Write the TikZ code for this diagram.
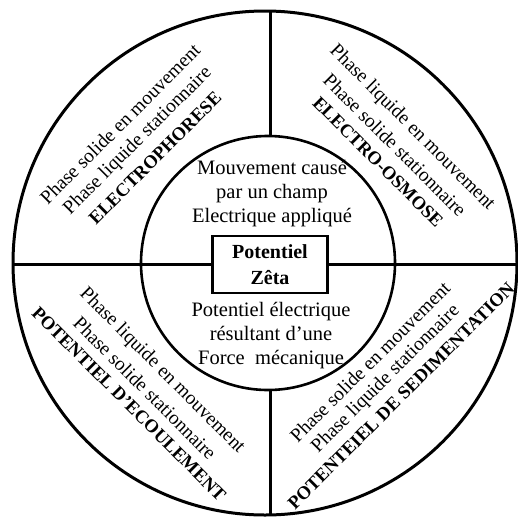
\documentclass[tikz,border=0pt]{standalone}
\usepackage{fontspec}
\setmainfont{Liberation Serif}
\begin{document}
\begin{tikzpicture}[x=1pt,y=-1pt,
  ring/.style={circle,draw,inner sep=0pt,outer sep=0pt},
  mid/.style={align=center,font=\fontsize{20.5}{24}\selectfont,inner sep=0pt},
  arc1/.style={font=\fontsize{19.5}{20}\selectfont,inner sep=0pt},
  arcb/.style={font=\fontsize{18.5}{20}\selectfont\bfseries,inner sep=0pt}]
\useasboundingbox (0,0) rectangle (518,520);
\node[ring,line width=3pt,minimum size=504pt] (outer) at (265,263) {};
\node[ring,line width=2.6pt,minimum size=254pt] (inner) at (268,263) {};
\node[draw,line width=2.6pt,minimum width=115pt,minimum height=57pt,align=center,
  font=\fontsize{20}{26}\selectfont\bfseries,inner sep=0pt] (box) at (270,264.5) {Potentiel\\Zêta};
\coordinate (vt) at (270,10.5);
\coordinate (vti) at (270,136.5);
\coordinate (vbi) at (270,389.5);
\coordinate (vb) at (270,515);
\coordinate (hl) at (13,264.5);
\coordinate (hr) at (517,264.5);
\draw[line width=3pt] (vt) -- (vti) (vbi) -- (vb);
\draw[line width=3pt] (hl) -- (box.west) (box.east) -- (hr);
\node[mid] (t1) at (272,194) {Mouvement causé\\par un champ\\Electrique appliqué};
\node[mid] (t2) at (271,336) {Potentiel électrique\\résultant d’une\\Force\ \ mécanique};
% upper left
\node[arc1,rotate=45] (a1) at (120,124) {Phase solide en mouvement};
\node[arc1,rotate=45] (a2) at (138,141) {Phase liquide stationnaire};
\node[arcb,rotate=45] (a3) at (155,158) {ELECTROPHORESE};
% upper right
\node[arc1,rotate=-45] (b1) at (412,128) {Phase liquide en mouvement};
\node[arc1,rotate=-45] (b2) at (395,145) {Phase solide stationnaire};
\node[arcb,rotate=-45] (b3) at (378,162) {ELECTRO-OSMOSE};
% lower left
\node[arc1,rotate=-45] (c1) at (162,371) {Phase liquide en mouvement};
\node[arc1,rotate=-45] (c2) at (145,388) {Phase solide stationnaire};
\node[arcb,rotate=-45] (c3) at (129,404) {POTENTIEL D'ECOULEMENT};
% lower right
\node[arc1,rotate=45] (d1) at (370,362) {Phase solide en mouvement};
\node[arc1,rotate=45] (d2) at (386,379) {Phase liquide stationnaire};
\node[arcb,rotate=45] (d3) at (401,396) {POTENTEIEL DE SEDIMENTATION};
\end{tikzpicture}
\end{document}
